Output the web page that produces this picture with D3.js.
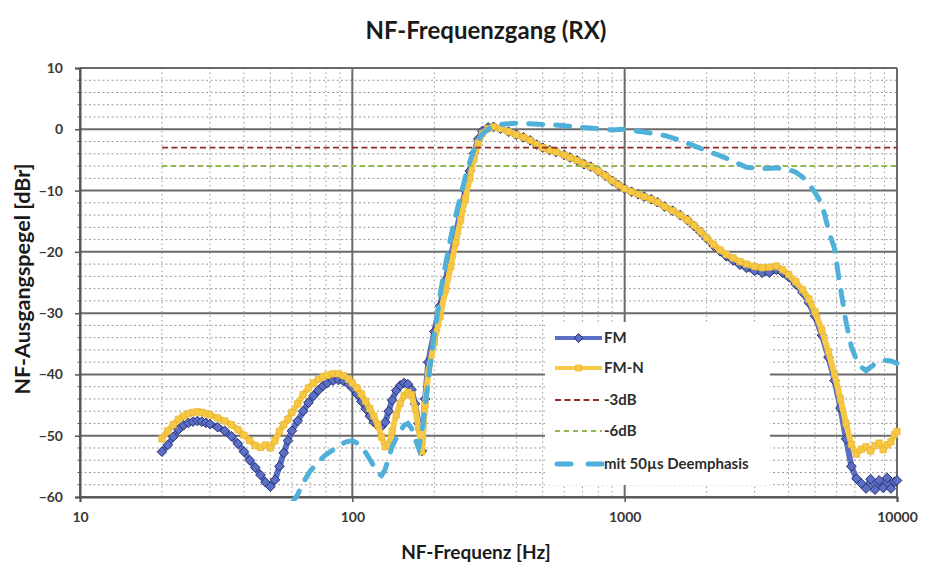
<!DOCTYPE html>
<html>
<head>
<meta charset="utf-8">
<script src="https://cdn.jsdelivr.net/npm/d3@7/dist/d3.min.js"></script>
<style>
  html, body { margin: 0; padding: 0; background: #fff; }
  svg { display: block; font-family: Lato, "Open Sans", sans-serif; }
</style>
</head>
<body>
<svg id="chart" width="925" height="564"></svg>
<script>
// Measurement frequencies (Hz) shared by the FM and FM-N traces
const freqs = [20,21,22,23,24,25,26,27,28,29,30,32,34,36,38,40,42,44,46,48,50,52,54,56,58,60,
  63,66,69,72,75,78,81,85,89,93,97,100,104,108,112,116,120,124,128,132,136,140,145,150,155,160,
  165,170,175,180,185,190,200,210,220,230,240,250,260,270,280,290,300,315,330,350,375,400,425,
  450,475,500,530,560,600,630,670,710,750,800,850,900,950,1000,1060,1120,1180,1250,1320,1400,
  1500,1600,1700,1800,1900,2000,2120,2240,2360,2500,2650,2800,3000,3200,3400,3600,3800,4000,
  4250,4500,4750,5000,5300,5600,5900,6200,6500,6800,7100,7400,7700,8000,8300,8600,8900,9200,
  9500,9800,10000];

// FM level (dBr)
const fm = [-52.6,-51.5,-50.2,-49.0,-48.3,-47.9,-47.7,-47.6,-47.7,-47.9,-48.1,-48.6,-49.2,-50.1,
  -51.3,-52.6,-54.0,-55.2,-56.4,-57.6,-58.3,-57.2,-55.0,-52.8,-50.8,-49.2,
  -47.6,-46.0,-44.6,-43.5,-42.6,-41.9,-41.4,-41.0,-40.9,-41.1,-41.6,-42.2,-43.2,-44.4,-45.6,
  -46.8,-47.8,-48.4,-48.5,-47.8,-46.0,-44.2,-42.6,-41.8,-41.4,-41.6,
  -42.5,-44.8,-48.0,-52.5,-44.0,-38.0,-33.0,-28.8,-24.6,-20.8,-17.0,-13.4,-10.0,-6.8,-3.9,-1.6,
  -0.3,0.3,0.4,0.1,-0.4,-0.9,-1.3,
  -1.8,-2.5,-3.0,-3.4,-3.7,-4.2,-4.6,-5.1,-5.7,-6.1,-6.8,-7.6,-8.4,-9.1,-9.7,-10.2,-10.6,-11.0,
  -11.4,-11.9,-12.6,
  -13.3,-14.0,-14.8,-15.8,-16.8,-17.8,-19.0,-19.9,-20.7,-21.4,-22.1,-22.6,-23.1,-23.4,-23.4,
  -22.9,-23.4,-24.1,
  -25.3,-26.6,-28.3,-30.5,-33.6,-37.2,-41.0,-45.5,-50.5,-55.0,-57.0,-57.8,-58.6,-57.1,-58.8,
  -57.3,-58.5,-56.9,
  -58.6,-57.5,-57.3];

// FM-N level (dBr)
const fmN = [-50.5,-49.2,-48.2,-47.3,-46.8,-46.4,-46.2,-46.1,-46.2,-46.4,-46.6,-47.1,-47.6,-48.2,
  -49.0,-49.9,-50.8,-51.6,-51.9,-51.5,-52.0,-50.8,-49.3,-48.2,-47.3,-46.2,
  -44.8,-43.3,-42.2,-41.4,-40.8,-40.4,-40.1,-39.9,-39.9,-40.2,-40.8,-41.4,-42.2,-43.2,-44.4,
  -45.6,-46.8,-48.2,-50.2,-51.8,-51.6,-49.3,-46.6,-44.7,-43.4,-42.9,
  -43.3,-45.6,-48.6,-52.6,-45.0,-39.8,-34.8,-30.5,-26.2,-22.4,-18.5,-14.8,-11.3,-8.0,-4.8,-2.2,
  -0.7,0.1,0.4,0.1,-0.4,-0.9,-1.3,
  -1.8,-2.5,-3.0,-3.4,-3.7,-4.2,-4.6,-5.1,-5.7,-6.1,-6.8,-7.6,-8.4,-9.1,-9.7,-10.2,-10.6,-11.0,
  -11.4,-11.9,-12.6,
  -13.3,-14.0,-14.8,-15.7,-16.7,-17.7,-18.8,-19.7,-20.4,-21.0,-21.6,-22.0,-22.4,-22.6,-22.5,
  -22.3,-22.9,-23.7,
  -24.9,-26.2,-27.7,-29.8,-32.8,-36.3,-40.0,-44.0,-48.0,-51.4,-53.0,-52.2,-51.8,-52.5,-51.6,
  -51.2,-52.3,-51.5,
  -51.0,-49.8,-49.3];

// Response with 50 µs de-emphasis
const deemphFreqs = [60,63,66,70,75,80,85,90,95,100,105,110,115,120,125,128,132,136,140,145,150,
  155,160,165,170,175,180,185,190,195,200,210,220,230,240,250,260,270,280,290,300,315,330,350,
  400,450,500,560,630,700,800,900,1000,1200,1400,1600,1800,2000,2240,2500,2800,3200,3600,4000,
  4250,4500,4750,5000,5300,5500,5700,5900,6100,6300,6500,6800,7100,7400,7700,8000,8500,9000,
  9500,10000];
const deemph = [-61.0,-59.6,-57.6,-55.8,-54.2,-53.1,-52.3,-51.5,-51.0,-50.8,-51.3,-52.2,-53.6,
  -55.0,-56.2,-56.5,-55.5,-53.6,-51.8,-50.4,-49.2,
  -48.3,-48.0,-48.8,-50.5,-52.0,-49.5,-45.4,-41.0,-37.0,-33.5,-27.0,-22.0,-17.6,-14.0,-10.8,
  -7.8,-5.3,-3.3,-1.8,-0.8,0.0,0.5,0.8,
  1.0,0.9,0.8,0.7,0.5,0.3,0.1,-0.1,0.0,-0.5,-1.0,-1.8,-2.7,-3.5,-4.3,-5.2,-6.2,-6.4,-6.3,-6.6,
  -7.0,-7.8,-9.0,-10.3,-12.2,-15.0,-17.5,-19.5,-24.0,-27.8,-31.5,-35.5,-37.6,-38.8,-39.4,-38.8,
  -38.0,-37.7,
  -37.8,-38.2];

// Reference levels
const refFreqs = [20, 10000];
const minus3 = [-3, -3];
const minus6 = [-6, -6];

const seriesNames = ["FM", "FM-N", "-3dB", "-6dB", "mit 50\u00b5s Deemphasis"];
const xTicks = [10, 100, 1000, 10000];
const yTicks = [10, 0, -10, -20, -30, -40, -50, -60];

const colors = {
  fm: "#5b6fc4", fmEdge: "#27306e",
  fmN: "#f6c844", fmNEdge: "#e8b534",
  m3: "#8e2a2a", m6: "#96b852",
  de: "#4fb0da"
};

const svg = d3.select("#chart");
const plotL = 80, plotR = 897, plotT = 68, plotB = 497;

const x = d3.scaleLog().domain([10, 10000]).range([plotL, plotR]);
const y = d3.scaleLinear().domain([-60, 10]).range([plotB, plotT]);

svg.append("rect").attr("width", 925).attr("height", 564).attr("fill", "#fff");

// Title
svg.append("text")
  .attr("x", 486).attr("y", 39)
  .attr("text-anchor", "middle")
  .attr("font-size", 24).attr("font-weight", 700).attr("fill", "#1a1a1a")
  .text("NF-Frequenzgang (RX)");

// Grid: minor lines (dotted)
const grid = svg.append("g");
const minorX = [];
[10, 100, 1000].forEach(d => { for (let k = 2; k <= 9; k++) minorX.push(d * k); });
grid.selectAll(".mx").data(minorX).join("line")
  .attr("x1", d => x(d)).attr("x2", d => x(d))
  .attr("y1", plotT).attr("y2", plotB)
  .attr("stroke", "#999").attr("stroke-width", 1).attr("stroke-dasharray", "1.5,3");
const minorY = d3.range(-58, 10, 2).filter(v => v % 10 !== 0);
grid.selectAll(".my").data(minorY).join("line")
  .attr("x1", plotL).attr("x2", plotR)
  .attr("y1", d => y(d)).attr("y2", d => y(d))
  .attr("stroke", "#999").attr("stroke-width", 1).attr("stroke-dasharray", "2,2.5");

// Grid: major lines
grid.selectAll(".My").data(yTicks).join("line")
  .attr("x1", plotL).attr("x2", plotR)
  .attr("y1", d => y(d)).attr("y2", d => y(d))
  .attr("stroke", "#6a6a6a").attr("stroke-width", 2);
grid.selectAll(".Mx").data(xTicks).join("line")
  .attr("x1", d => x(d)).attr("x2", d => x(d))
  .attr("y1", plotT).attr("y2", plotB)
  .attr("stroke", "#6a6a6a").attr("stroke-width", 2);

// Axes
const yAxis = svg.append("g").attr("transform", `translate(${plotL},0)`)
  .call(d3.axisLeft(y).tickValues(yTicks).tickSize(5).tickPadding(12).tickFormat(d3.format("d")));
const xAxis = svg.append("g").attr("transform", `translate(0,${plotB})`)
  .call(d3.axisBottom(x).tickValues(xTicks).tickSize(5).tickPadding(10).tickFormat(d3.format("d")));
[yAxis, xAxis].forEach(a => {
  a.select(".domain").attr("stroke", "#555").attr("stroke-width", 2);
  a.selectAll(".tick line").attr("stroke", "#555").attr("stroke-width", 1.5);
  a.selectAll(".tick text").attr("font-family", "Lato, sans-serif")
    .attr("font-size", 14).attr("font-weight", 700).attr("fill", "#383838");
});
// minor ticks on the value axis
svg.append("g").selectAll("line").data(minorY).join("line")
  .attr("x1", plotL - 2.5).attr("x2", plotL)
  .attr("y1", d => y(d)).attr("y2", d => y(d))
  .attr("stroke", "#555").attr("stroke-width", 1);

// Axis titles
svg.append("text")
  .attr("transform", "translate(30,279) rotate(-90)")
  .attr("text-anchor", "middle")
  .attr("font-size", 21.5).attr("font-weight", 700).attr("fill", "#1a1a1a")
  .text("NF-Ausgangspegel [dBr]");
svg.append("text")
  .attr("x", 476).attr("y", 559)
  .attr("text-anchor", "middle")
  .attr("font-size", 19).attr("font-weight", 700).attr("fill", "#1a1a1a")
  .text("NF-Frequenz [Hz]");

// Plot clip
svg.append("clipPath").attr("id", "plotClip")
  .append("rect").attr("x", plotL).attr("y", plotT - 4).attr("width", plotR - plotL + 6).attr("height", plotB - plotT + 8);
const plot = svg.append("g").attr("clip-path", "url(#plotClip)");

const line = d3.line().x(d => x(d[0])).y(d => y(d[1]));
const fmPts = freqs.map((f, i) => [f, fm[i]]);
const fmNPts = freqs.map((f, i) => [f, fmN[i]]);
const dePts = deemphFreqs.map((f, i) => [f, deemph[i]]);

// FM trace with diamond markers
plot.append("path").datum(fmPts).attr("d", line)
  .attr("fill", "none").attr("stroke", colors.fm).attr("stroke-width", 6)
  .attr("stroke-linejoin", "round");
plot.append("g").selectAll("path").data(fmPts).join("path")
  .attr("d", d3.symbol(d3.symbolDiamond2, 60))
  .attr("transform", d => `translate(${x(d[0])},${y(d[1])})`)
  .attr("fill", colors.fm).attr("stroke", colors.fmEdge).attr("stroke-width", 1);

// FM-N trace with square markers
plot.append("path").datum(fmNPts).attr("d", line)
  .attr("fill", "none").attr("stroke", colors.fmN).attr("stroke-width", 6)
  .attr("stroke-linejoin", "round");
plot.append("g").selectAll("path").data(fmNPts).join("path")
  .attr("d", d3.symbol(d3.symbolSquare, 40))
  .attr("transform", d => `translate(${x(d[0])},${y(d[1])})`)
  .attr("fill", colors.fmN).attr("stroke", colors.fmNEdge).attr("stroke-width", 0.7);

// Reference lines
plot.append("path").datum(refFreqs.map((f, i) => [f, minus3[i]])).attr("d", line)
  .attr("fill", "none").attr("stroke", colors.m3).attr("stroke-width", 1.6).attr("stroke-dasharray", "6,3.5");
plot.append("path").datum(refFreqs.map((f, i) => [f, minus6[i]])).attr("d", line)
  .attr("fill", "none").attr("stroke", colors.m6).attr("stroke-width", 2).attr("stroke-dasharray", "5,4");

// De-emphasis trace
plot.append("path").datum(dePts).attr("d", line)
  .attr("fill", "none").attr("stroke", colors.de).attr("stroke-width", 5)
  .attr("stroke-linecap", "round").attr("stroke-dasharray", "14,13");

// Legend
const legend = svg.append("g");
legend.append("rect").attr("x", 545).attr("y", 322).attr("width", 225).attr("height", 163).attr("fill", "#fff");
const legY = [338, 368, 400, 431, 464];
const lx1 = 555, lx2 = 602;
const items = legend.selectAll("g").data(seriesNames).join("g")
  .attr("transform", (d, i) => `translate(0,${legY[i]})`);
items.append("text").attr("x", 604).attr("y", 0).attr("dy", "0.36em")
  .attr("font-size", 15).attr("font-weight", 700).attr("fill", "#2e2e2e").text(d => d);
items.each(function (d, i) {
  const g = d3.select(this);
  if (i === 0) {
    g.append("line").attr("x1", lx1).attr("x2", lx2).attr("stroke", colors.fm).attr("stroke-width", 4);
    g.append("path").attr("d", d3.symbol(d3.symbolDiamond2, 50)).attr("transform", `translate(${(lx1 + lx2) / 2},0)`)
      .attr("fill", colors.fm).attr("stroke", colors.fmEdge).attr("stroke-width", 1);
  } else if (i === 1) {
    g.append("line").attr("x1", lx1).attr("x2", lx2).attr("stroke", colors.fmN).attr("stroke-width", 4);
    g.append("path").attr("d", d3.symbol(d3.symbolSquare, 36)).attr("transform", `translate(${(lx1 + lx2) / 2},0)`)
      .attr("fill", colors.fmN).attr("stroke", colors.fmNEdge).attr("stroke-width", 0.7);
  } else if (i === 2) {
    g.append("line").attr("x1", lx1).attr("x2", lx2).attr("stroke", colors.m3).attr("stroke-width", 1.8).attr("stroke-dasharray", "6,3.5");
  } else if (i === 3) {
    g.append("line").attr("x1", lx1).attr("x2", lx2).attr("stroke", colors.m6).attr("stroke-width", 2).attr("stroke-dasharray", "5,4");
  } else {
    g.append("line").attr("x1", lx1 + 2).attr("x2", lx2).attr("stroke", colors.de).attr("stroke-width", 5)
      .attr("stroke-linecap", "round").attr("stroke-dasharray", "14,17");
  }
});
</script>
</body>
</html>
